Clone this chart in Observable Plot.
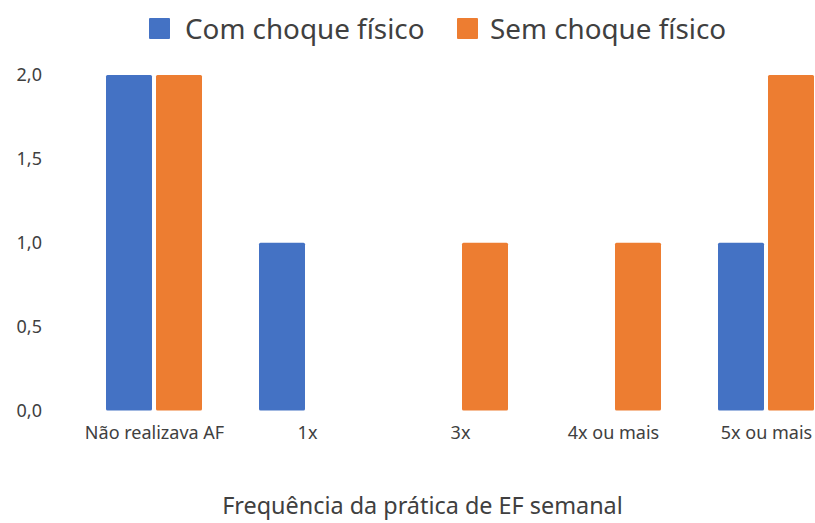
<!DOCTYPE html>
<html>
<head>
<meta charset="utf-8">
<script src="https://cdn.jsdelivr.net/npm/d3@7"></script>
<script src="https://cdn.jsdelivr.net/npm/@observablehq/plot@0.6"></script>
<style>
  body { margin: 0; background: #fff; font-family: "Noto Sans", "Open Sans", sans-serif; }
  #wrap { width: 815px; height: 523px; position: relative; overflow: hidden; background: #fff; }
  #legend { position: relative; height: 58px; }
  .sw { position: absolute; top: 18px; width: 21px; height: 21px; border-radius: 1px; }
  .lt { position: absolute; top: 29px; transform: translateY(-50%); font-size: 27.8px; color: #404040; white-space: nowrap; line-height: 1; }
  #chart svg { display: block; overflow: visible; }
  #xtitle { position: absolute; left: 0; width: 845px; top: 490px; text-align: center; font-size: 23.4px; color: #404040; line-height: 30px; white-space: nowrap; }
</style>
</head>
<body>
<div id="wrap">
  <div id="legend"></div>
  <div id="chart"></div>
  <div id="xtitle"></div>
</div>
<script>
const categories = ["Não realizava AF", "1x", "3x", "4x ou mais", "5x ou mais"];
const series = ["Com choque físico", "Sem choque físico"];
const comValues = [2, 1, 0, 0, 1];
const semValues = [2, 0, 1, 1, 2];
const colors = ["#4472C4", "#ED7D31"];
const yTicks = [0, 0.5, 1, 1.5, 2];
const xTitle = "Frequência da prática de EF semanal";

const data = categories.flatMap((c, i) => [
  {cat: c, s: series[0], v: comValues[i]},
  {cat: c, s: series[1], v: semValues[i]}
]);

// legend
const legend = document.getElementById("legend");
const legendPos = [[149, 185], [457, 490]];
series.forEach((s, i) => {
  const sw = document.createElement("div");
  sw.className = "sw";
  sw.style.left = legendPos[i][0] + "px";
  sw.style.background = colors[i];
  legend.appendChild(sw);
  const t = document.createElement("div");
  t.className = "lt";
  t.style.left = legendPos[i][1] + "px";
  t.textContent = s;
  legend.appendChild(t);
});

document.getElementById("xtitle").textContent = xTitle;

const chart = Plot.plot({
  width: 815,
  height: 410,
  marginTop: 17,
  marginBottom: 57.5,
  marginLeft: 77.5,
  marginRight: -27.5,
  style: { fontFamily: "'Noto Sans', 'Open Sans', sans-serif", fontSize: "18px", color: "#404040", background: "transparent", overflow: "visible" },
  fx: { domain: categories, padding: 0, round: false, tickSize: 0, tickPadding: 15, label: null, axis: "bottom" },
  x: { domain: series, paddingInner: 0.08, paddingOuter: 0.57, round: false, axis: null },
  y: { domain: [0, 2], ticks: yTicks, tickFormat: d => d.toFixed(1).replace(".", ","), tickSize: 0, tickPadding: 36, label: null },
  color: { domain: series, range: colors },
  marks: [
    Plot.barY(data, { fx: "cat", x: "s", y: "v", fill: "s", rx: 1.5 })
  ]
});
document.getElementById("chart").appendChild(chart);
</script>
</body>
</html>
